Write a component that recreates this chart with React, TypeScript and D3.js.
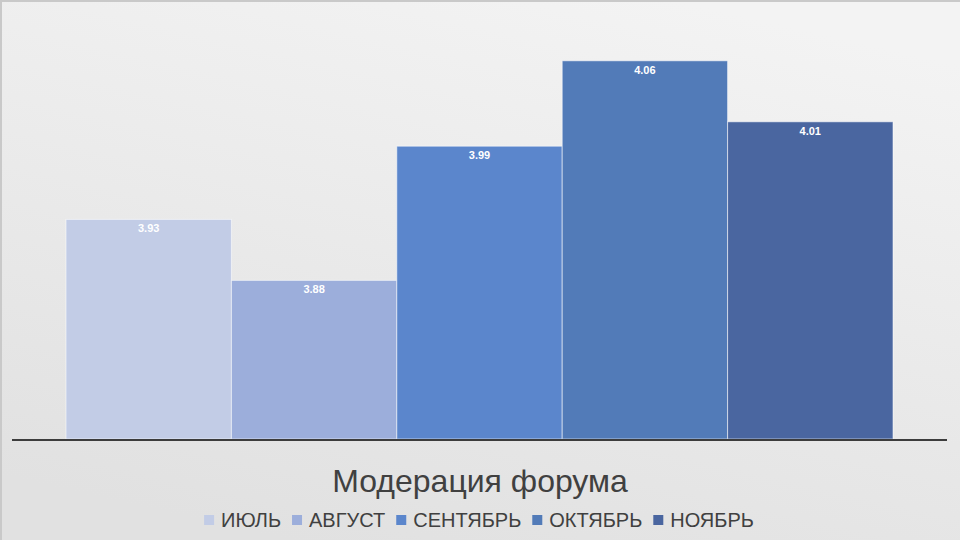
import React from "react";
import * as d3 from "d3";

const categories = ["ИЮЛЬ", "АВГУСТ", "СЕНТЯБРЬ", "ОКТЯБРЬ", "НОЯБРЬ"];
const values = [3.93, 3.88, 3.99, 4.06, 4.01];
const colors = ["#c2cce6", "#9caedb", "#5b86cc", "#527bb8", "#4a66a0"];
const title = "Модерация форума";
const yDomain = [3.75, 4.1];

const W = 960;
const H = 540;
const FONT = "'Liberation Sans', Arial, sans-serif";

function textWidth(s: string, size: number) {
  const c = document.createElement("canvas").getContext("2d");
  if (!c) return s.length * size * 0.6;
  c.font = `${size}px 'Liberation Sans', Arial, sans-serif`;
  return c.measureText(s).width;
}

export default function App() {
  const x = d3.scaleBand<string>().domain(categories).range([66, 893]).padding(0);
  const y = d3.scaleLinear().domain(yDomain).range([439, 12]);
  const base = y(yDomain[0]);

  const legendFont = 20;
  const legendY = 520;
  const sq = 10;
  const sqGap = 7;
  const itemGap = 11;
  const itemWidths = categories.map((c) => sq + sqGap + textWidth(c, legendFont));
  const totalW = d3.sum(itemWidths) + itemGap * (categories.length - 1);
  let cx = 479 - totalW / 2;
  const legendItems = categories.map((c, i) => {
    const item = { c, i, x: cx };
    cx += itemWidths[i] + itemGap;
    return item;
  });

  return (
    <svg
      width={W}
      height={H}
      style={{ position: "absolute", left: 0, top: 0, fontFamily: FONT }}
    >
      <defs>
        <linearGradient id="bg" x1="0.7" y1="0" x2="0.3" y2="1">
          <stop offset="0" stopColor="#f3f3f3" />
          <stop offset="1" stopColor="#e1e1e1" />
        </linearGradient>
      </defs>
      <rect x={0} y={0} width={W} height={H} fill="url(#bg)" />
      <rect x={1} y={1} width={W} height={H} fill="none" stroke="#c9c9c9" strokeWidth={2} />
      {categories.map((c, i) => (
        <g key={c}>
          <rect
            x={x(c)!}
            y={y(values[i])}
            width={x.bandwidth()}
            height={base - y(values[i])}
            fill={colors[i]}
            stroke="#ffffff"
            strokeOpacity={0.55}
            strokeWidth={1}
          />
          <text
            x={x(c)! + x.bandwidth() / 2}
            y={y(values[i]) + 13}
            textAnchor="middle"
            fontSize={11}
            fontWeight="bold"
            fill="#ffffff"
          >
            {values[i].toFixed(2)}
          </text>
        </g>
      ))}
      <line x1={12} x2={947} y1={440} y2={440} stroke="#3c3c3c" strokeWidth={2} />
      <text x={480} y={492} textAnchor="middle" fontSize={32} fill="#404040">
        {title}
      </text>
      {legendItems.map((it) => (
        <g key={it.c}>
          <rect x={it.x} y={legendY - 5} width={sq} height={sq} fill={colors[it.i]} />
          <text x={it.x + sq + sqGap} y={legendY + 7} fontSize={legendFont} fill="#404040">
            {it.c}
          </text>
        </g>
      ))}
    </svg>
  );
}
